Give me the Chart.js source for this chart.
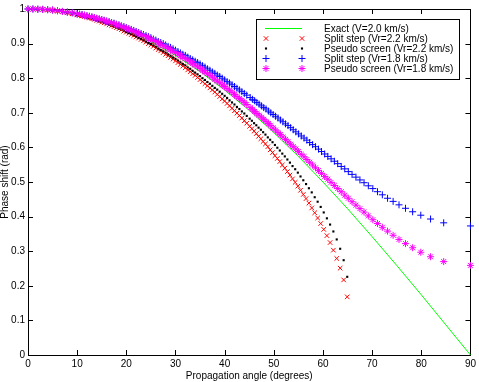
<!DOCTYPE html>
<html>
<head>
<meta charset="utf-8">
<title>Phase shift vs propagation angle</title>
<script src="https://cdn.jsdelivr.net/npm/chart.js"></script>
<style>
  html, body { margin: 0; padding: 0; background: #fff; }
  #wrap { position: relative; width: 479px; height: 382px; }
</style>
</head>
<body>
<div id="wrap"><canvas id="phaseChart"></canvas></div>
<script>
// Exact solution (V = 2.0 km/s)
const exactAngles = [0, 5, 10, 15, 20, 25, 30, 35, 40, 45, 50, 55, 60, 65, 70, 75, 80, 85, 90];
const exactPhase = [1.000, 0.996, 0.985, 0.966, 0.940, 0.906, 0.866, 0.819, 0.766, 0.707,
  0.643, 0.574, 0.500, 0.423, 0.342, 0.259, 0.174, 0.087, 0.000];

// Vr = 2.2 km/s runs (split step + pseudo screen share the same angles)
const anglesV22 = [0, 1, 2, 3, 4, 5, 6, 7, 8, 9, 10,
  10.5, 11, 11.5, 12, 12.5, 13, 13.5, 14, 14.5, 15, 15.5, 16, 16.5, 17, 17.5, 18, 18.5, 19, 19.5, 20,
  20.5, 21, 21.5, 22, 22.5, 23, 23.5, 24, 24.5, 25, 25.5, 26, 26.5, 27, 27.5, 28, 28.5, 29, 29.5, 30,
  30.5, 31, 31.5, 32, 32.5, 33, 33.5, 34, 34.5, 35, 35.5, 36, 36.5, 37, 37.5, 38, 38.5, 39, 39.5, 40,
  40.5, 41, 41.5, 42, 42.5, 43, 43.5, 44, 44.5,
  45.09, 45.54, 45.99, 46.44, 46.90, 47.37, 47.83, 48.30, 48.78, 49.26, 49.74, 50.23, 50.72,
  51.22, 51.73, 52.24, 52.76, 53.28, 53.81, 54.35, 54.89, 55.44, 56.00, 56.56, 57.14, 57.72,
  58.32, 58.92, 59.54, 60.16, 60.80, 61.45, 62.12, 62.80, 63.50, 64.21, 64.94];
const splitStep22 = [1.000, 1.000, 0.999, 0.999, 0.997, 0.996, 0.994, 0.992, 0.989, 0.986, 0.983,
  0.982, 0.980, 0.978, 0.976, 0.974, 0.972, 0.970, 0.967, 0.965, 0.962, 0.960, 0.957, 0.954, 0.952,
  0.949, 0.946, 0.943, 0.940, 0.936, 0.933,
  0.930, 0.926, 0.923, 0.919, 0.916, 0.912, 0.908, 0.904, 0.900, 0.896, 0.892, 0.887, 0.883, 0.879,
  0.874, 0.869, 0.865, 0.860, 0.855, 0.850,
  0.845, 0.840, 0.835, 0.830, 0.824, 0.819, 0.813, 0.808, 0.802, 0.796, 0.790, 0.784, 0.778, 0.772,
  0.766, 0.760, 0.753, 0.747, 0.740, 0.734,
  0.727, 0.720, 0.713, 0.706, 0.699, 0.692, 0.685, 0.677, 0.670,
  0.661, 0.654, 0.647, 0.640, 0.632, 0.625, 0.617, 0.610, 0.602, 0.593, 0.585, 0.576, 0.568,
  0.559, 0.549, 0.540, 0.530, 0.520, 0.509, 0.499, 0.488, 0.476, 0.464, 0.452, 0.439, 0.425,
  0.411, 0.396, 0.380, 0.363, 0.345, 0.325, 0.303, 0.279, 0.251, 0.217, 0.168];
const pseudoScreen22 = [1.000, 1.000, 0.999, 0.999, 0.997, 0.996, 0.994, 0.992, 0.989, 0.987, 0.983,
  0.982, 0.980, 0.978, 0.976, 0.974, 0.972, 0.970, 0.968, 0.965, 0.963, 0.960, 0.958, 0.955, 0.952,
  0.950, 0.947, 0.944, 0.941, 0.938, 0.934,
  0.931, 0.928, 0.924, 0.921, 0.917, 0.914, 0.910, 0.906, 0.902, 0.899, 0.895, 0.891, 0.886, 0.882,
  0.878, 0.874, 0.869, 0.865, 0.860, 0.856,
  0.851, 0.846, 0.841, 0.837, 0.831, 0.827, 0.821, 0.816, 0.811, 0.806, 0.800, 0.795, 0.789, 0.784,
  0.778, 0.772, 0.767, 0.761, 0.755, 0.749,
  0.743, 0.736, 0.730, 0.724, 0.717, 0.711, 0.704, 0.698, 0.691,
  0.683, 0.677, 0.670, 0.664, 0.657, 0.651, 0.644, 0.637, 0.629, 0.622, 0.615, 0.607, 0.599,
  0.591, 0.582, 0.574, 0.565, 0.556, 0.546, 0.537, 0.527, 0.516, 0.505, 0.494, 0.482, 0.470,
  0.456, 0.443, 0.428, 0.412, 0.395, 0.377, 0.357, 0.334, 0.307, 0.274, 0.226];

// Vr = 1.8 km/s runs
const anglesV18 = [0, 1, 2, 3, 4, 5, 6, 7, 8, 9, 10,
  10.5, 11, 11.5, 12, 12.5, 13, 13.5, 14, 14.5, 15, 15.5, 16, 16.5, 17, 17.5, 18, 18.5, 19, 19.5, 20,
  20.5, 21, 21.5, 22, 22.5, 23, 23.5, 24, 24.5, 25, 25.5, 26, 26.5, 27, 27.5, 28, 28.5, 29, 29.5, 30,
  30.5, 31, 31.5, 32, 32.5, 33, 33.5, 34, 34.5, 35, 35.5, 36, 36.5, 37, 37.5, 38, 38.5, 39, 39.5, 40,
  40.5, 41, 41.5, 42, 42.5, 43, 43.5, 44, 44.5,
  45.20, 45.65, 46.10, 46.55, 47.01, 47.48, 47.95, 48.42, 48.90, 49.38, 49.86, 50.36, 50.85,
  51.35, 51.86, 52.38, 52.89, 53.42, 53.95, 54.49, 55.04, 55.59, 56.15, 56.72, 57.30, 57.89,
  58.49, 59.09, 59.71, 60.35, 60.99, 61.65, 62.32, 63.00, 63.71, 64.43, 65.16, 65.92, 66.71,
  67.52, 68.36, 69.23, 70.14, 71.09, 72.08, 73.14, 74.27, 75.47, 76.79, 78.24, 79.90, 81.89,
  84.56, 90];
const splitStep18 = [1.000, 1.000, 0.999, 0.999, 0.998, 0.997, 0.995, 0.993, 0.991, 0.989, 0.986,
  0.985, 0.984, 0.982, 0.980, 0.979, 0.977, 0.975, 0.973, 0.971, 0.969, 0.967, 0.965, 0.963, 0.961,
  0.959, 0.956, 0.954, 0.951, 0.949, 0.946,
  0.943, 0.941, 0.938, 0.935, 0.932, 0.929, 0.926, 0.923, 0.920, 0.917, 0.913, 0.910, 0.906, 0.903,
  0.900, 0.896, 0.892, 0.889, 0.885, 0.881,
  0.877, 0.873, 0.869, 0.866, 0.861, 0.857, 0.853, 0.849, 0.845, 0.841, 0.836, 0.832, 0.827, 0.823,
  0.818, 0.814, 0.809, 0.805, 0.800, 0.795,
  0.790, 0.786, 0.781, 0.776, 0.771, 0.766, 0.761, 0.756, 0.751,
  0.744, 0.739, 0.735, 0.730, 0.725, 0.720, 0.715, 0.711, 0.705, 0.700, 0.695, 0.690, 0.685,
  0.679, 0.674, 0.668, 0.663, 0.657, 0.651, 0.645, 0.639, 0.633, 0.627, 0.621, 0.614, 0.608,
  0.602, 0.595, 0.588, 0.581, 0.574, 0.567, 0.560, 0.553, 0.545, 0.538, 0.530, 0.522, 0.514,
  0.506, 0.498, 0.489, 0.481, 0.472, 0.463, 0.453, 0.444, 0.434, 0.424, 0.414, 0.404, 0.393,
  0.382, 0.373];
const pseudoScreen18 = [1.000, 1.000, 1.000, 0.999, 0.998, 0.997, 0.995, 0.993, 0.991, 0.989, 0.986,
  0.985, 0.983, 0.982, 0.980, 0.978, 0.977, 0.975, 0.973, 0.971, 0.969, 0.967, 0.965, 0.962, 0.960,
  0.958, 0.955, 0.953, 0.950, 0.947, 0.945,
  0.942, 0.939, 0.936, 0.933, 0.930, 0.926, 0.923, 0.920, 0.916, 0.913, 0.909, 0.906, 0.902, 0.898,
  0.894, 0.890, 0.886, 0.882, 0.878, 0.874,
  0.870, 0.865, 0.861, 0.857, 0.852, 0.847, 0.843, 0.838, 0.833, 0.828, 0.823, 0.818, 0.813, 0.808,
  0.803, 0.797, 0.792, 0.787, 0.781, 0.776,
  0.770, 0.765, 0.759, 0.753, 0.747, 0.741, 0.736, 0.730, 0.724,
  0.715, 0.710, 0.704, 0.698, 0.693, 0.687, 0.681, 0.675, 0.669, 0.663, 0.656, 0.650, 0.643,
  0.637, 0.630, 0.623, 0.616, 0.609, 0.602, 0.595, 0.588, 0.580, 0.573, 0.565, 0.557, 0.549,
  0.541, 0.533, 0.525, 0.516, 0.508, 0.499, 0.490, 0.481, 0.472, 0.462, 0.453, 0.443, 0.433,
  0.423, 0.413, 0.402, 0.391, 0.380, 0.369, 0.358, 0.346, 0.334, 0.322, 0.310, 0.297, 0.284,
  0.270, 0.259];

const seriesLabels = [
  'Exact (V=2.0 km/s)',
  'Split step (Vr=2.2 km/s)',
  'Pseudo screen (Vr=2.2 km/s)',
  'Split step (Vr=1.8 km/s)',
  'Pseudo screen (Vr=1.8 km/s)'
];

function toPoints(xs, ys) {
  return xs.map(function(x, i) { return { x: x, y: ys[i] }; });
}

// Box, inward ticks on all four sides (matlab style)
const frameTicks = {
  id: 'frameTicks',
  beforeDatasetsDraw: function(chart) {
    const ctx = chart.ctx;
    const a = chart.chartArea;
    const len = 5;
    ctx.save();
    ctx.strokeStyle = '#000';
    ctx.lineWidth = 1;
    ctx.beginPath();
    chart.scales.x.ticks.forEach(function(t) {
      const px = Math.round(chart.scales.x.getPixelForValue(t.value)) + 0.5;
      ctx.moveTo(px, a.bottom); ctx.lineTo(px, a.bottom - len);
      ctx.moveTo(px, a.top); ctx.lineTo(px, a.top + len);
    });
    chart.scales.y.ticks.forEach(function(t) {
      const py = Math.round(chart.scales.y.getPixelForValue(t.value)) + 0.5;
      ctx.moveTo(a.left, py); ctx.lineTo(a.left + len, py);
      ctx.moveTo(a.right, py); ctx.lineTo(a.right - len, py);
    });
    ctx.stroke();
    ctx.strokeRect(Math.round(a.left) + 0.5, Math.round(a.top) + 0.5,
      Math.round(a.right - a.left), Math.round(a.bottom - a.top));
    ctx.restore();
  }
};

// Legend box in the upper right, two markers per entry
const boxLegend = {
  id: 'boxLegend',
  afterDatasetsDraw: function(chart) {
    const ctx = chart.ctx;
    const a = chart.chartArea;
    const left = Math.round(a.right) - 214;
    const top = Math.round(a.top) + 10;
    const w = 203, h = 60;
    ctx.save();
    ctx.fillStyle = '#fff';
    ctx.fillRect(left, top, w, h);
    ctx.strokeStyle = '#000';
    ctx.lineWidth = 1;
    ctx.strokeRect(left + 0.5, top + 0.5, w, h);

    chart.data.datasets.forEach(function(ds, i) {
      const y = top + 9.5 + i * 10;
      const x1 = left + 10, x2 = left + 46;
      ctx.strokeStyle = ds.borderColor;
      ctx.fillStyle = ds.backgroundColor;
      ctx.lineWidth = 1;
      if (ds.showLine) {
        ctx.beginPath();
        ctx.moveTo(x1 - 1, y); ctx.lineTo(x2, y);
        ctx.stroke();
      } else if (Chart.helpers && Chart.helpers.drawPoint) {
        const opts = { pointStyle: ds.pointStyle, radius: ds.pointRadius, rotation: 0,
          borderWidth: ds.pointBorderWidth };
        Chart.helpers.drawPoint(ctx, opts, x1, y);
        Chart.helpers.drawPoint(ctx, opts, x2, y);
      } else {
        ctx.fillRect(x1 - 1, y - 1, 2, 2);
        ctx.fillRect(x2 - 1, y - 1, 2, 2);
      }
      ctx.fillStyle = '#000';
      ctx.textAlign = 'left';
      ctx.textBaseline = 'middle';
      ctx.font = '10px "Liberation Sans", Arial, sans-serif';
      ctx.fillText(ds.label, left + 68, y + 0.5);
    });
    ctx.restore();
  }
};

Chart.defaults.font.family = '"Liberation Sans", Arial, sans-serif';
Chart.defaults.font.size = 10;
Chart.defaults.color = '#000';

new Chart(document.getElementById('phaseChart'), {
  type: 'scatter',
  data: {
    datasets: [
      {
        label: seriesLabels[0],
        data: toPoints(exactAngles, exactPhase),
        showLine: true,
        borderColor: '#00ff00',
        backgroundColor: '#00ff00',
        borderWidth: 1,
        pointRadius: 0,
        order: 5
      },
      {
        label: seriesLabels[1],
        data: toPoints(anglesV22, splitStep22),
        showLine: false,
        pointStyle: 'crossRot',
        pointRadius: 3.2,
        pointBorderWidth: 1,
        borderColor: '#ff0000',
        backgroundColor: '#ff0000',
        order: 4
      },
      {
        label: seriesLabels[2],
        data: toPoints(anglesV22, pseudoScreen22),
        showLine: false,
        pointStyle: 'rect',
        pointRadius: 1.5,
        pointBorderWidth: 0,
        borderColor: '#000000',
        backgroundColor: '#000000',
        order: 3
      },
      {
        label: seriesLabels[3],
        data: toPoints(anglesV18, splitStep18),
        showLine: false,
        pointStyle: 'cross',
        pointRadius: 3.5,
        pointBorderWidth: 1,
        borderColor: '#0000ff',
        backgroundColor: '#0000ff',
        order: 2
      },
      {
        label: seriesLabels[4],
        data: toPoints(anglesV18, pseudoScreen18),
        showLine: false,
        pointStyle: 'star',
        pointRadius: 3.5,
        pointBorderWidth: 1,
        borderColor: '#ff00ff',
        backgroundColor: '#ff00ff',
        order: 1
      }
    ]
  },
  options: {
    responsive: true,
    maintainAspectRatio: false,
    animation: false,
    clip: false,
    layout: { padding: { top: 3, right: 6, left: 0, bottom: 0 } },
    plugins: {
      legend: { display: false },
      tooltip: { enabled: false }
    },
    scales: {
      x: {
        type: 'linear',
        min: 0,
        max: 90,
        grid: { display: false, drawTicks: false },
        border: { display: false },
        ticks: { stepSize: 10, padding: 3, maxRotation: 0, autoSkip: false },
        title: { display: true, text: 'Propagation angle (degrees)',
          font: { size: 10, lineHeight: 1 }, padding: { top: 0, bottom: 1 } },
        afterFit: function(scale) { scale.height = 27; }
      },
      y: {
        min: 0,
        max: 1,
        grid: { display: false, drawTicks: false },
        border: { display: false },
        ticks: {
          stepSize: 0.1,
          padding: 3,
          callback: function(v) { return String(Math.round(v * 10) / 10); }
        },
        title: { display: true, text: 'Phase shift (rad)',
          font: { size: 10, lineHeight: 1 }, padding: { top: 0, bottom: 0 } },
        afterFit: function(scale) { scale.width = 28; }
      }
    }
  },
  plugins: [frameTicks, boxLegend]
});
</script>
</body>
</html>
